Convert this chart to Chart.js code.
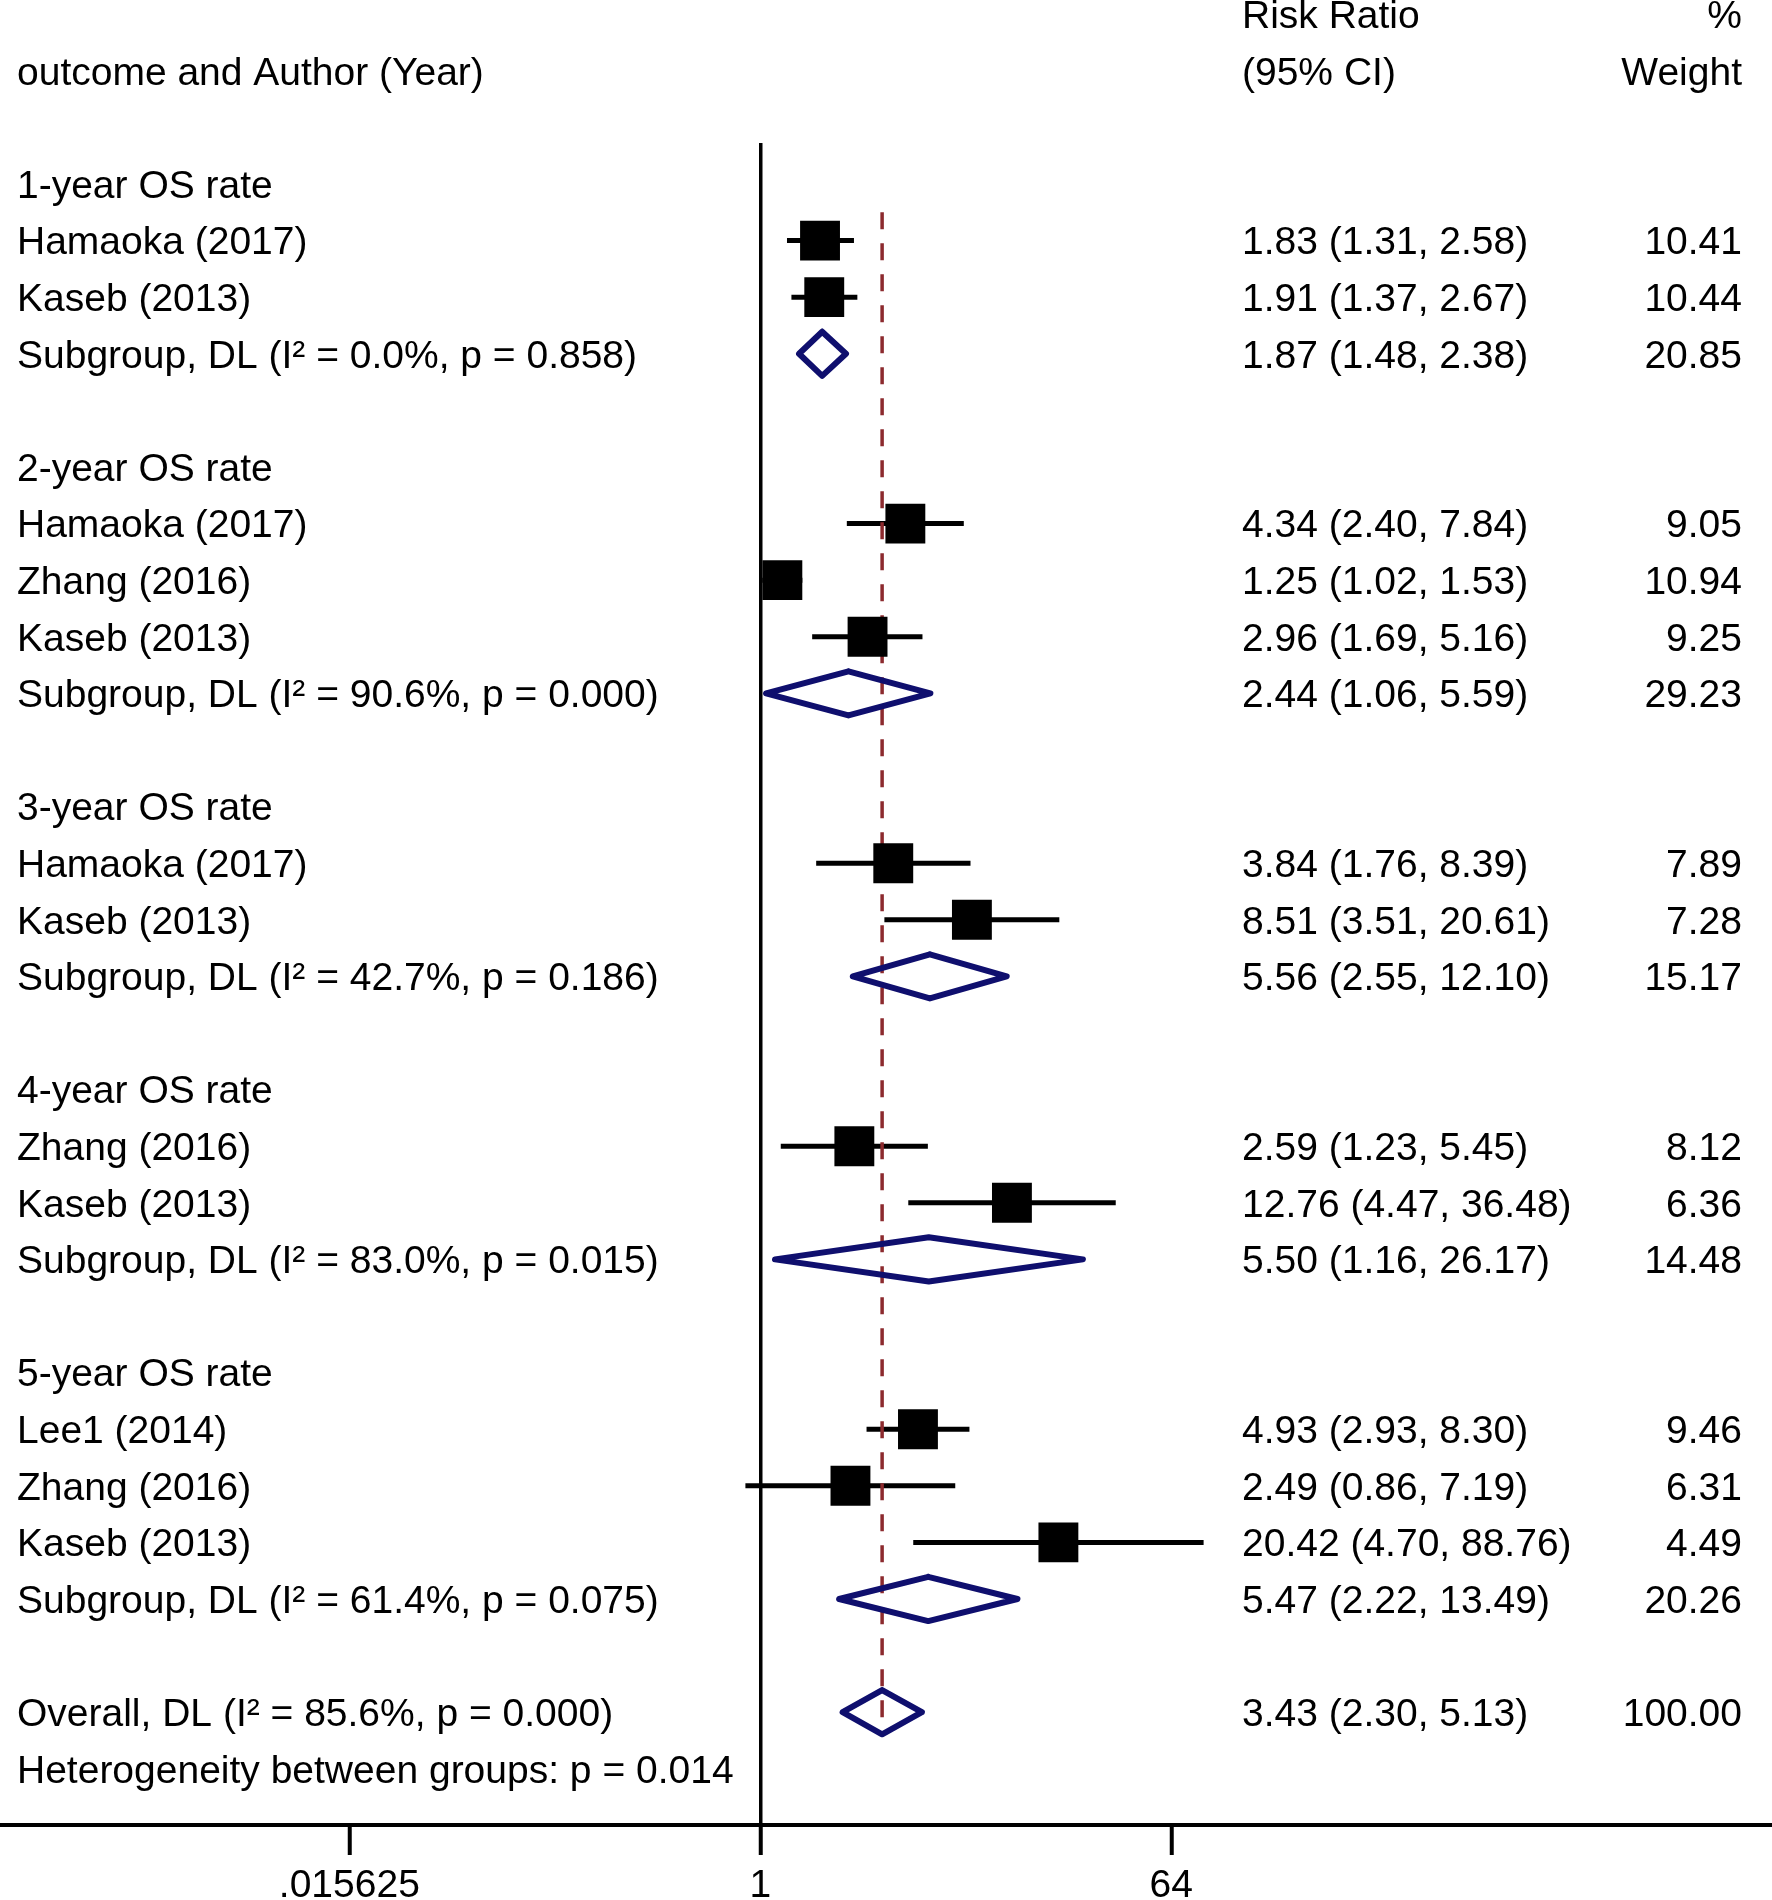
<!DOCTYPE html>
<html>
<head>
<meta charset="utf-8">
<title>Forest plot - OS rate</title>
<script src="https://cdn.jsdelivr.net/npm/chart.js@4.4.1/dist/chart.umd.min.js"></script>
<style>
    html, body { margin: 0; padding: 0; background: #fff; overflow: hidden; }
    #wrap { width: 1772px; height: 1900px; position: relative; }
</style>
</head>
<body>
<div id="wrap"><canvas id="forestChart"></canvas></div>
<script>
// DATA - rows from top to bottom
const rowLabels = [
    '1-year OS rate', 'Hamaoka (2017)', 'Kaseb (2013)', 'Subgroup, DL (I² = 0.0%, p = 0.858)', '',
    '2-year OS rate', 'Hamaoka (2017)', 'Zhang (2016)', 'Kaseb (2013)', 'Subgroup, DL (I² = 90.6%, p = 0.000)', '',
    '3-year OS rate', 'Hamaoka (2017)', 'Kaseb (2013)', 'Subgroup, DL (I² = 42.7%, p = 0.186)', '',
    '4-year OS rate', 'Zhang (2016)', 'Kaseb (2013)', 'Subgroup, DL (I² = 83.0%, p = 0.015)', '',
    '5-year OS rate', 'Lee1 (2014)', 'Zhang (2016)', 'Kaseb (2013)', 'Subgroup, DL (I² = 61.4%, p = 0.075)', '',
    'Overall, DL (I² = 85.6%, p = 0.000)', 'Heterogeneity between groups: p = 0.014'
];
// s = study, d = pooled (diamond), other = text only
const rowKinds = [
    'g', 's', 's', 'd', '',
    'g', 's', 's', 's', 'd', '',
    'g', 's', 's', 'd', '',
    'g', 's', 's', 'd', '',
    'g', 's', 's', 's', 'd', '',
    'd', 'n'
];
const riskRatio = [
    null, 1.83, 1.91, 1.87, null,
    null, 4.34, 1.25, 2.96, 2.44, null,
    null, 3.84, 8.51, 5.56, null,
    null, 2.59, 12.76, 5.50, null,
    null, 4.93, 2.49, 20.42, 5.47, null,
    3.43, null
];
const ciLower = [
    null, 1.31, 1.37, 1.48, null,
    null, 2.40, 1.02, 1.69, 1.06, null,
    null, 1.76, 3.51, 2.55, null,
    null, 1.23, 4.47, 1.16, null,
    null, 2.93, 0.86, 4.70, 2.22, null,
    2.30, null
];
const ciUpper = [
    null, 2.58, 2.67, 2.38, null,
    null, 7.84, 1.53, 5.16, 5.59, null,
    null, 8.39, 20.61, 12.10, null,
    null, 5.45, 36.48, 26.17, null,
    null, 8.30, 7.19, 88.76, 13.49, null,
    5.13, null
];
const weights = [
    null, 10.41, 10.44, 20.85, null,
    null, 9.05, 10.94, 9.25, 29.23, null,
    null, 7.89, 7.28, 15.17, null,
    null, 8.12, 6.36, 14.48, null,
    null, 9.46, 6.31, 4.49, 20.26, null,
    100.00, null
];
const tickValues = [1 / 64, 1, 64];
const tickLabels = ['.015625', '1', '64'];
const overallRR = 3.43;

// Styles
const FONT = '"Liberation Sans", Arial, Helvetica, sans-serif';
const FONT_SIZE = 39;
const NAVY = '#0f0f6e';
const MAROON = '#8c2a2e';
const DIAMOND_H = 0.39;       // half height of a diamond, in rows
const COL_LABEL = 17;
const COL_RR = 1242;
const COL_WEIGHT = 1742;

Chart.defaults.font.family = FONT;
Chart.defaults.color = '#000';

const rowIndex = rowLabels.map((_, i) => i);
const studyRows = rowIndex.filter(i => rowKinds[i] === 's');
const pooledRows = rowIndex.filter(i => rowKinds[i] === 'd');
const overallRow = pooledRows[pooledRows.length - 1];

// Datasets
const squareSet = {
    label: 'studies',
    data: studyRows.map(i => ({ x: riskRatio[i], y: i })),
    pointStyle: 'rect',
    pointRadius: 28.2,
    pointHoverRadius: 28.2,
    backgroundColor: '#000',
    borderWidth: 0,
    order: 0
};

const whiskerSets = studyRows.map(i => ({
    label: 'ci ' + i,
    data: [{ x: ciLower[i], y: i }, { x: ciUpper[i], y: i }],
    showLine: true,
    borderColor: '#000',
    borderWidth: 5,
    pointRadius: 0,
    order: 3
}));

const diamondSets = pooledRows.map(i => ({
    label: 'pooled ' + i,
    data: [
        { x: riskRatio[i], y: i - DIAMOND_H },
        { x: ciUpper[i], y: i },
        { x: riskRatio[i], y: i + DIAMOND_H },
        { x: ciLower[i], y: i },
        { x: riskRatio[i], y: i - DIAMOND_H }
    ],
    showLine: true,
    borderColor: NAVY,
    borderWidth: 6,
    borderJoinStyle: 'round',
    borderCapStyle: 'round',
    pointRadius: 0,
    fill: false,
    order: 1
}));

const overallLine = {
    label: 'overall',
    data: [{ x: overallRR, y: 0.5 }, { x: overallRR, y: overallRow + DIAMOND_H }],
    showLine: true,
    borderColor: MAROON,
    borderWidth: 3.5,
    borderDash: [17, 14],
    pointRadius: 0,
    order: 2
};

// Text columns (labels, RR (95% CI), weight)
const textColumns = {
    id: 'textColumns',
    afterDraw(chart) {
        const ctx = chart.ctx;
        const y = chart.scales.y;
        ctx.save();
        ctx.font = FONT_SIZE + 'px ' + FONT;
        ctx.fillStyle = '#000';
        ctx.textBaseline = 'middle';

        function put(text, x, row, align) {
            ctx.textAlign = align;
            ctx.fillText(text, x, y.getPixelForValue(row) + 3);
        }

        put('Risk Ratio', COL_RR, -3, 'left');
        put('%', COL_WEIGHT, -3, 'right');
        put('outcome and Author (Year)', COL_LABEL, -2, 'left');
        put('(95% CI)', COL_RR, -2, 'left');
        put('Weight', COL_WEIGHT, -2, 'right');

        rowLabels.forEach((label, i) => {
            if (label) put(label, COL_LABEL, i, 'left');
            if (riskRatio[i] !== null) {
                const ci = riskRatio[i].toFixed(2) + ' (' + ciLower[i].toFixed(2) + ', ' + ciUpper[i].toFixed(2) + ')';
                put(ci, COL_RR, i, 'left');
                put(weights[i].toFixed(2), COL_WEIGHT, i, 'right');
            }
        });
        ctx.restore();
    }
};

new Chart(document.getElementById('forestChart'), {
    type: 'scatter',
    data: {
        datasets: [squareSet, ...diamondSets, overallLine, ...whiskerSets]
    },
    options: {
        responsive: true,
        maintainAspectRatio: false,
        animation: false,
        events: [],
        layout: {
            autoPadding: false,
            padding: { top: 143, left: 0, right: 0, bottom: 0 }
        },
        plugins: {
            legend: { display: false },
            tooltip: { enabled: false }
        },
        scales: {
            x: {
                type: 'logarithmic',
                position: 'bottom',
                min: Math.pow(2, -11.1),
                max: Math.pow(2, 14.77),
                afterBuildTicks: scale => {
                    scale.ticks = tickValues.map(v => ({ value: v }));
                },
                afterFit: scale => {
                    // axis runs edge to edge
                    scale.height = 75;
                    scale.paddingLeft = 0;
                    scale.paddingRight = 0;
                },
                ticks: {
                    callback: (value, index) => tickLabels[index],
                    autoSkip: false,
                    maxRotation: 0,
                    padding: 8,
                    font: { size: FONT_SIZE },
                    color: '#000'
                },
                grid: {
                    color: c => (c.tick && c.tick.value === 1) ? '#000' : 'rgba(0,0,0,0)',
                    lineWidth: 3.5,
                    drawTicks: true,
                    tickLength: 30,
                    tickWidth: 4,
                    tickColor: '#000'
                },
                border: { display: true, color: '#000', width: 4 }
            },
            y: {
                type: 'linear',
                display: false,
                reverse: true,
                min: -0.724,
                max: 28.993
            }
        }
    },
    plugins: [textColumns]
});
</script>
</body>
</html>
